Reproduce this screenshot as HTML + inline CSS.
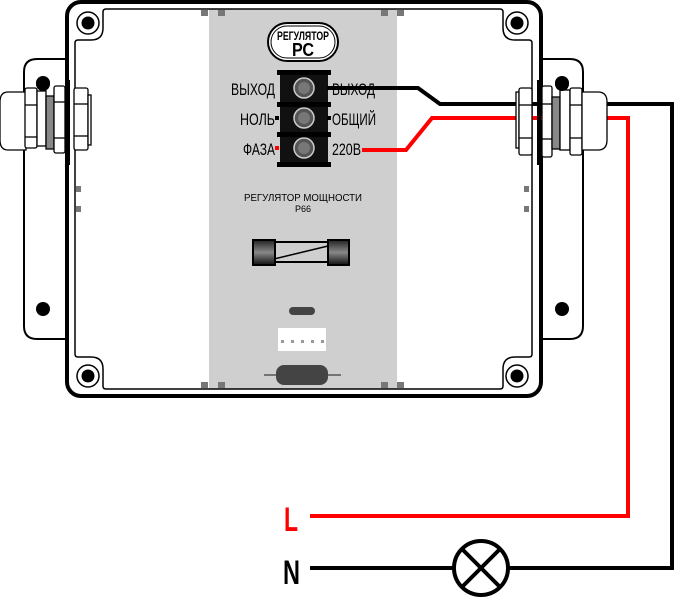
<!DOCTYPE html>
<html><head><meta charset="utf-8"><style>
html,body{margin:0;padding:0;background:#fff;width:676px;height:599px;overflow:hidden}
svg{display:block}
text{font-family:"Liberation Sans",sans-serif}
</style></head><body>
<svg width="676" height="599" viewBox="0 0 676 599" xmlns="http://www.w3.org/2000/svg">
<path d="M66,59 H37 Q24,59 24,72 V326 Q24,339 37,339 H66" fill="#fff" stroke="#000" stroke-width="2"/>
<path d="M541,59 H570 Q583,59 583,72 V326 Q583,339 570,339 H541" fill="#fff" stroke="#000" stroke-width="2"/>
<circle cx="43" cy="83" r="7" fill="#000"/><circle cx="43" cy="309" r="7" fill="#000"/>
<circle cx="562" cy="83" r="7" fill="#000"/><circle cx="562" cy="309" r="7" fill="#000"/>
<rect x="67" y="2" width="474" height="394" rx="14" fill="#fff" stroke="#000" stroke-width="4"/>
<rect x="209" y="9" width="188" height="380" fill="#cfcfcf"/>
<path d="M106,9 H500 Q503,9 503,12 V28 Q503,40 515,40 H529 Q532,40 532,43 V354 Q532,357 529,357 H515 Q503,357 503,369 V386 Q503,389 500,389 H106 Q103,389 103,386 V369 Q103,357 91,357 H78 Q75,357 75,354 V43 Q75,40 78,40 H91 Q103,40 103,28 V12 Q103,9 106,9 Z" fill="none" stroke="#000" stroke-width="1.5"/>
<g fill="#fff" stroke="#000" stroke-width="1.5">
<circle cx="88" cy="23" r="11"/><circle cx="517" cy="23" r="11"/><circle cx="88" cy="376" r="11"/><circle cx="517" cy="376" r="11"/></g>
<g fill="#000"><circle cx="88" cy="23" r="6.5"/><circle cx="517" cy="23" r="6.5"/><circle cx="88" cy="376" r="6.5"/><circle cx="517" cy="376" r="6.5"/></g>
<g fill="#777"><rect x="201" y="10" width="7" height="6"/><rect x="218" y="10" width="7" height="6"/><rect x="381" y="10" width="7" height="6"/><rect x="397" y="10" width="7" height="6"/>
<rect x="201" y="382" width="7" height="6"/><rect x="218" y="382" width="7" height="6"/><rect x="381" y="382" width="7" height="6"/><rect x="397" y="382" width="7" height="6"/>
<rect x="76" y="186" width="5" height="6"/><rect x="76" y="206" width="5" height="6"/><rect x="524" y="186" width="5" height="6"/><rect x="524" y="206" width="5" height="6"/></g>
<rect x="268" y="23" width="70" height="38" rx="19" fill="#fff" stroke="#000" stroke-width="2"/>
<rect x="271" y="26" width="64" height="32" rx="16" fill="none" stroke="#000" stroke-width="1"/>
<text x="303" y="40" font-size="12" font-weight="bold" text-anchor="middle" textLength="52" lengthAdjust="spacingAndGlyphs">РЕГУЛЯТОР</text>
<text x="303" y="56" font-size="18" font-weight="bold" text-anchor="middle" textLength="22" lengthAdjust="spacingAndGlyphs">РС</text>
<rect x="280" y="72" width="48" height="94" fill="#111"/>
<rect x="277" y="70" width="54" height="5" fill="#000"/><rect x="277" y="102" width="54" height="5" fill="#000"/><rect x="277" y="132" width="54" height="5" fill="#000"/><rect x="277" y="162" width="54" height="5" fill="#000"/>
<g stroke="#ccc" stroke-width="1.5" fill="#555"><circle cx="304" cy="88" r="10"/><circle cx="304" cy="118" r="10"/><circle cx="304" cy="148" r="10"/></g>
<g fill="#777"><circle cx="304" cy="88" r="6"/><circle cx="304" cy="118" r="6"/><circle cx="304" cy="148" r="6"/></g>
<g font-size="17">
<text x="275" y="95" text-anchor="end" textLength="44" lengthAdjust="spacingAndGlyphs">ВЫХОД</text>
<text x="275" y="125" text-anchor="end" textLength="35" lengthAdjust="spacingAndGlyphs">НОЛЬ</text>
<text x="275" y="155" text-anchor="end" textLength="32" lengthAdjust="spacingAndGlyphs">ФАЗА</text>
<text x="332" y="95" textLength="43" lengthAdjust="spacingAndGlyphs">ВЫХОД</text>
<text x="332" y="125" textLength="44" lengthAdjust="spacingAndGlyphs">ОБЩИЙ</text>
<text x="332" y="155" textLength="29" lengthAdjust="spacingAndGlyphs">220В</text></g>
<rect x="275" y="116" width="4" height="4" fill="#000"/><rect x="327" y="116" width="4" height="4" fill="#000"/>
<rect x="275" y="146" width="4" height="4" fill="#f00"/><rect x="327" y="86" width="4" height="4" fill="#000"/>
<text x="303" y="201" font-size="10" text-anchor="middle" textLength="118" lengthAdjust="spacingAndGlyphs">РЕГУЛЯТОР МОЩНОСТИ</text>
<text x="303" y="212" font-size="9" text-anchor="middle">Р66</text>
<rect x="274" y="242" width="54" height="20" fill="none" stroke="#000" stroke-width="2"/>
<line x1="274" y1="259" x2="328" y2="246" stroke="#000" stroke-width="1.5"/>
<defs><linearGradient id="g" x1="0" y1="0" x2="0" y2="1"><stop offset="0" stop-color="#222"/><stop offset="0.5" stop-color="#888"/><stop offset="1" stop-color="#111"/></linearGradient></defs>
<rect x="253" y="240" width="22" height="25" fill="url(#g)" stroke="#000" stroke-width="2"/>
<rect x="328" y="240" width="21" height="25" fill="url(#g)" stroke="#000" stroke-width="2"/>
<rect x="289" y="307" width="26" height="8" rx="4" fill="#444"/>
<rect x="278" y="328" width="48" height="23" fill="#fff"/>
<g fill="#999"><rect x="281" y="340" width="3" height="3"/><rect x="291" y="340" width="3" height="3"/><rect x="301" y="340" width="3" height="3"/><rect x="311" y="340" width="3" height="3"/><rect x="321" y="340" width="3" height="3"/></g>
<line x1="264" y1="375" x2="341" y2="375" stroke="#555" stroke-width="1.5"/>
<rect x="276" y="365" width="52" height="20" rx="8" fill="#444"/>
<g stroke="#000" stroke-width="1.3" fill="#fff">
<path d="M26,92 H8 Q0,92 0,102 V140 Q0,150 8,150 H26 Z"/>
<rect x="25" y="88" width="12" height="60" rx="2"/><line x1="25" y1="105" x2="37" y2="105"/><line x1="25" y1="137" x2="37" y2="137"/>
<rect x="37" y="91" width="9" height="55"/>
<rect x="46" y="96" width="8" height="53" fill="#888"/>
<rect x="54" y="86" width="11" height="67" rx="2"/><line x1="54" y1="102" x2="65" y2="102"/><line x1="54" y1="138" x2="65" y2="138"/>
<rect x="74" y="88" width="14" height="62" rx="2"/><line x1="74" y1="104" x2="88" y2="104"/><line x1="74" y1="136" x2="88" y2="136"/>
<rect x="88" y="95" width="3" height="50"/>
</g>
<circle cx="43" cy="84" r="7" fill="#000"/>
<polyline points="331,88 418,88 440,104 672,104 672,568 507,568" fill="none" stroke="#000" stroke-width="4"/>
<line x1="310" y1="568" x2="455" y2="568" stroke="#000" stroke-width="4"/>
<polyline points="362,150 406,150 432,118 628,118 628,516 310,516" fill="none" stroke="#f00" stroke-width="4"/>
<g stroke="#000" stroke-width="1.3" fill="#fff">
<rect x="516" y="92" width="3" height="56"/>
<rect x="519" y="88" width="13" height="67" rx="2"/><line x1="519" y1="105" x2="532" y2="105"/><line x1="519" y1="138" x2="532" y2="138"/>
<rect x="542" y="86" width="10" height="71" rx="2"/><line x1="542" y1="104" x2="552" y2="104"/><line x1="542" y1="139" x2="552" y2="139"/>
<rect x="552" y="97" width="8" height="52" fill="#888"/>
<rect x="560" y="90" width="10" height="60"/>
<rect x="570" y="88" width="12" height="67" rx="2"/><line x1="570" y1="105" x2="582" y2="105"/><line x1="570" y1="138" x2="582" y2="138"/>
<path d="M582,92 H598 Q607,92 607,102 V140 Q607,150 598,150 H582 Z"/>
</g>
<circle cx="562" cy="84" r="7" fill="#000"/>
<line x1="539" y1="80" x2="539" y2="165" stroke="#000" stroke-width="4"/>
<line x1="68" y1="80" x2="68" y2="165" stroke="#000" stroke-width="4"/>
<circle cx="481" cy="568" r="27" fill="#fff" stroke="#000" stroke-width="4"/>
<line x1="462" y1="549" x2="500" y2="587" stroke="#000" stroke-width="4"/>
<line x1="500" y1="549" x2="462" y2="587" stroke="#000" stroke-width="4"/>
<text x="284" y="531" font-size="34" font-weight="bold" fill="#f00" textLength="14" lengthAdjust="spacingAndGlyphs">L</text>
<text x="283" y="584" font-size="34" font-weight="bold" fill="#000" textLength="17" lengthAdjust="spacingAndGlyphs">N</text>
</svg>
</body></html>
